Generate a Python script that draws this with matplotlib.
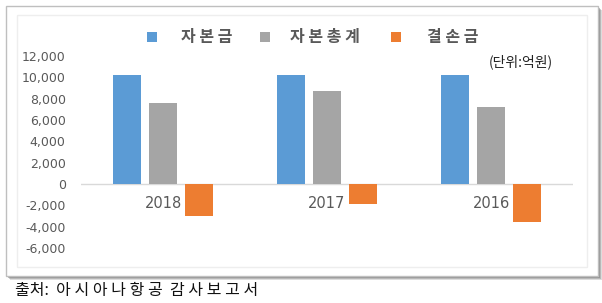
import numpy as np
from matplotlib import pyplot as plt
import matplotlib.patches as patches

# data (unit: 억원)
years = ['2018', '2017', '2016']
series_names = ['자본금', '자본총계', '결손금']
capital = [10200, 10200, 10200]
equity = [7600, 8700, 7200]
deficit = [-3000, -1900, -3570]
colors = ['#5B9BD5', '#A5A5A5', '#ED7D31']

W, H = 602, 303
fig = plt.figure(figsize=(W / 100, H / 100), dpi=100)
fig.patch.set_facecolor('white')

def fx(px):
    return px / W

def fy(py):
    return 1 - py / H

# frame with shadow round the chart
for off, a in ((4, 0.25), (3, 0.35), (2, 0.5)):
    sh = patches.Rectangle((fx(6 + off), fy(276 + off)), fx(592), 270 / H,
                           transform=fig.transFigure, facecolor='#777777',
                           edgecolor='none', alpha=a, zorder=0)
    fig.patches.append(sh)
box = patches.Rectangle((fx(6), fy(276)), fx(592), 270 / H,
                        transform=fig.transFigure, facecolor='white',
                        edgecolor='#bfbfbf', linewidth=1.0, zorder=1)
fig.patches.append(box)
inner = patches.Rectangle((fx(17), fy(267)), fx(570), 252 / H,
                          transform=fig.transFigure, facecolor='none',
                          edgecolor='#eeeeee', linewidth=1.0, zorder=2)
fig.patches.append(inner)

ax = fig.add_axes([fx(81), fy(248), fx(573 - 81), (248 - 56) / H])
ax.set_facecolor('none')
ax.set_zorder(3)

x = np.arange(len(years))
w = 0.17
step = 0.22
for i, vals in enumerate([capital, equity, deficit]):
    ax.bar(x + (i - 1) * step, vals, width=w, color=colors[i],
           label=series_names[i], zorder=3)

ax.axhline(0, color='#d9d9d9', linewidth=1.0, zorder=2)
ax.set_xlim(-0.5, 2.5)
ax.set_ylim(-6000, 12000)
ax.set_yticks(np.arange(-6000, 12001, 2000))
ax.yaxis.set_major_formatter(plt.FuncFormatter(lambda v, p: '{:,.0f}'.format(v)))
ax.tick_params(axis='y', length=0, pad=11, labelsize=9, labelcolor='#595959')
ax.set_xticks([])
for s in ax.spines.values():
    s.set_visible(False)

for xi, yr in zip(x, years):
    ax.annotate(yr, (xi, 0), xytext=(0, -14), textcoords='offset points',
                ha='center', va='center', fontsize=10.5, color='#595959')

kr = ['Noto Sans CJK KR', 'DejaVu Sans']

# legend, laid out by hand
sq_left = [147, 260, 391]
txt_left = [181, 290, 427]
for c, name, sx, tx in zip(colors, series_names, sq_left, txt_left):
    sq = patches.Rectangle((fx(sx), fy(42)), fx(10), 10 / H,
                           transform=fig.transFigure, facecolor=c,
                           edgecolor='none', zorder=4)
    fig.patches.append(sq)
    fig.text(fx(tx), fy(37), ' '.join(list(name)), family=kr, fontsize=11.5,
             weight='bold', color='#595959', va='center', ha='left')

fig.text(fx(489), fy(62), '(단위:억원)', family=kr, fontsize=10,
         color='#222222', va='center', ha='left')

fig.text(fx(15), fy(291), '출처:  아 시 아 나 항 공  감 사 보 고 서', family=kr,
         fontsize=11.5, color='#111111', va='center', ha='left')

fig.savefig('out.png', dpi=100)
